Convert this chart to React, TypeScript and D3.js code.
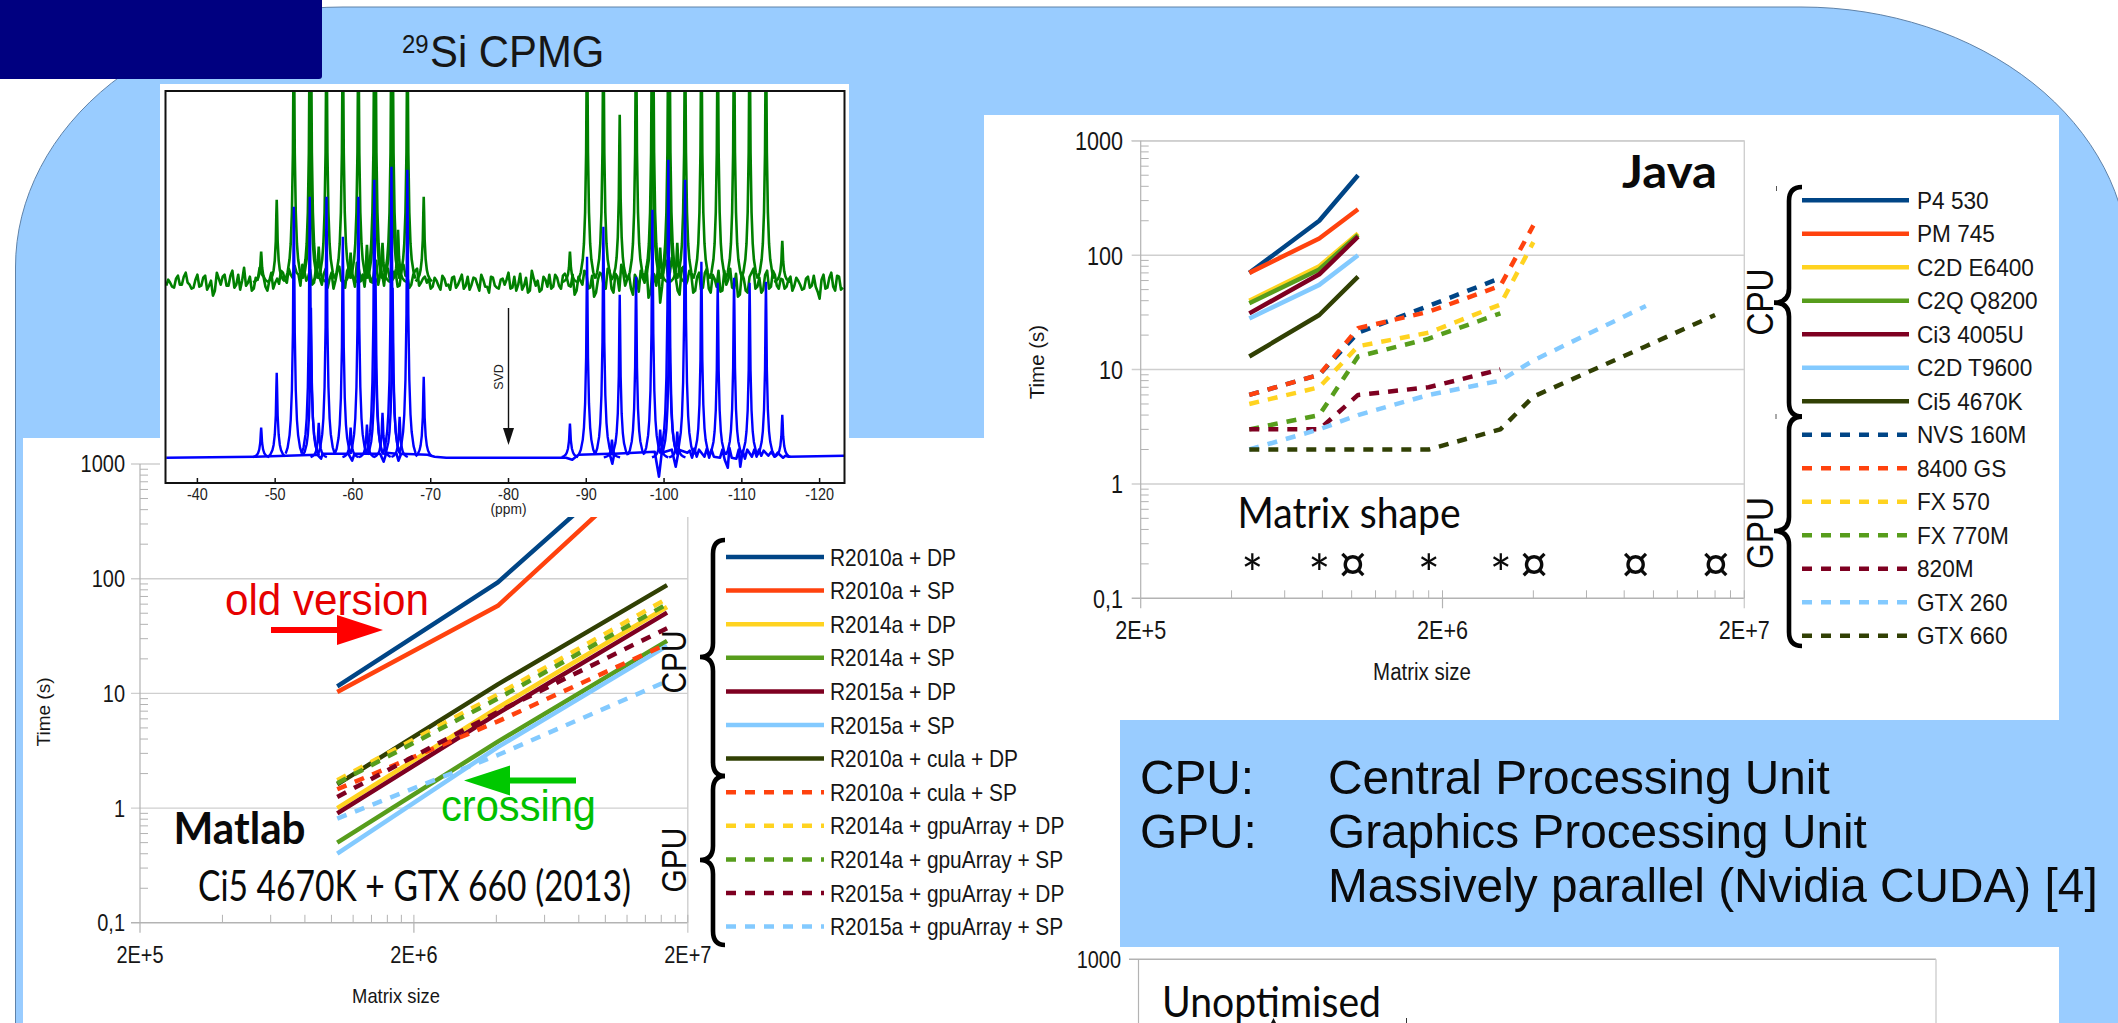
import React from "react";
import * as d3 from "d3";

// ---------- shared palette / labels ----------
const seriesColors = ["#004586", "#ff420e", "#ffd320", "#579d1c", "#7e0021", "#83caff", "#314004"];
const yTickLabels = ["0,1", "1", "10", "100", "1000"];
const yTickValues = [0.1, 1, 10, 100, 1000];
const xTickLabels = ["2E+5", "2E+6", "2E+7"];
const xTickValues = [2e5, 2e6, 2e7];

// ---------- Matlab chart ----------
const matlabSizes = [1.05e6, 4.05e6, 1.68e7];
const matlabNames = [
  "R2010a + DP", "R2010a + SP", "R2014a + DP", "R2014a + SP", "R2015a + DP", "R2015a + SP", "R2010a + cula + DP",
  "R2010a + cula + SP", "R2014a + gpuArray + DP", "R2014a + gpuArray + SP", "R2015a + gpuArray + DP", "R2015a + gpuArray + SP",
];
const matlabColorIdx = [0, 1, 2, 3, 4, 5, 6, 1, 2, 3, 4, 5];
const matlabDashed = [false, false, false, false, false, false, false, true, true, true, true, true];
const matlabValues = [
  [11.5, 93, 1900],
  [10.3, 58, 1330],
  [1.0, 7.5, 56.7],
  [0.5, 3.8, 28.7],
  [0.9, 6.7, 50.6],
  [0.4, 3.4, 26],
  [1.61, 12, 88],
  [1.46, 5.7, 27],
  [1.75, 9.8, 67],
  [1.65, 9, 60],
  [1.25, 6.9, 37],
  [0.81, 2.9, 12.8],
];

// ---------- Java chart ----------
const javaSizes = [4.58e5, 7.81e5, 1.05e6, 1.8e6, 3.11e6, 4.0e6, 9.44e6, 1.6e7];
const javaNames = [
  "P4 530", "PM 745", "C2D E6400", "C2Q Q8200", "Ci3 4005U", "C2D T9600", "Ci5 4670K",
  "NVS 160M", "8400 GS", "FX 570", "FX 770M", "820M", "GTX 260", "GTX 660",
];
const javaColorIdx = [0, 1, 2, 3, 4, 5, 6, 0, 1, 2, 3, 4, 5, 6];
const javaDashed = [false, false, false, false, false, false, false, true, true, true, true, true, true, true];
const N = null;
const javaValues = [
  [70, 200, 500, N, N, N, N, N],
  [70, 140, 252, N, N, N, N, N],
  [40, 80, 155, N, N, N, N, N],
  [38, 75, 150, N, N, N, N, N],
  [31, 68, 145, N, N, N, N, N],
  [28, 55, 100, N, N, N, N, N],
  [13, 30, 65, N, N, N, N, N],
  [6, 9, 21, 36, 63, N, N, N],
  [6, 9, 23, 32, 54, 182, N, N],
  [5, 7, 16, 21, 37, 130, N, N],
  [3, 4, 13, 18.6, 31, N, N, N],
  [3, 3, 6, 7, 10, N, N, N],
  [2, 3, 4, 6, 8, 12, 36, N],
  [2, 2, 2, 2, 3, 5.8, 16, 30],
];
const starSizes = [4.69e5, 7.81e5, 1.8e6, 3.12e6];
const curSizes = [1.01e6, 4.02e6, 8.73e6, 1.61e7];

// ---------- 29Si spectrum ----------
const ppmTicks = [-40, -50, -60, -70, -80, -90, -100, -110, -120];
const peakShapeOffsets = [-1.05, -0.8, -0.55, -0.4, -0.25, -0.12, -0.05, 0, 0.05, 0.12, 0.25, 0.4, 0.55, 0.8, 1.05];
const peakShapeFractions = [0.016, 0.04, 0.09, 0.15, 0.27, 0.5, 0.82, 1, 0.82, 0.5, 0.27, 0.15, 0.09, 0.04, 0.016];

const bluePeakPpm = [
  -48.2, -50.2, -52.4, -54.45, -54.6, -55.6, -56.6, -58.7, -59.7, -60.7, -61.8, -62.75, -62.9, -63.8, -64.95, -65.1, -66, -67, -69.1,
  -87.9, -90.1, -92.2, -93.3, -94.3, -96.4, -98.5, -99.5, -100.55, -100.7, -101.7, -102.7, -104.8, -106.9, -109, -111, -113.1, -115.2,
];
const bluePeakHeight = [
  30, 85, 251, 261, 150, 35, 261, 221, 30, 261, 33, 278, 180, 45, 291, 170, 41, 288, 81,
  34, 201, 231, 18, 163, 181, 248, 28, 298, 190, 26, 278, 196, 175, 180, 175, 176, 43,
];
const greenPeakPpm = [
  -48.2, -50.2, -52.4, -54.45, -54.6, -55.6, -56.6, -58.7, -59.7, -60.7, -61.8, -62.75, -62.9, -63.8, -64.95, -65.1, -65.8, -67, -69.1,
  -87.9, -90.1, -92.2, -94.3, -96.4, -98.45, -98.6, -99.5, -100.55, -100.7, -101.7, -102.7, -104.8, -106.9, -109, -111, -113.1, -115.2,
];
const greenPeakHeight = [
  31, 83, 260, 260, 260, 36, 260, 260, 30, 260, 38, 260, 260, 40, 260, 260, 53, 260, 86,
  31, 260, 260, 168, 260, 260, 260, 35, 260, 260, 40, 260, 260, 260, 260, 260, 260, 42,
];
// Green trace, read every half ppm from -36 ppm, height over the trace's resting level.
const greenTrace = [
  -3, 0, -5, 7, -2, 10, -2, -5, 8, -3, 7, -3, -13, 10, -2, 8, -3, 12, -2, -7, 15, 0, -8, 5, 15, 6, -8, 10, 0,
  -1, 10, 0, 8, 17, 8, 18, 2, 13, 0, 8, -2, 14, 4, -6, 12, 2, -5, 16, 6, 20, 3, -4, 10, 0, 22, 8, -3, 14, 2, 10, -3, 18, 6, -2, 12, -3, 4,
  0, -6, 5, -3, 7, -3, -7, 6, -2, 8, -3, -7, 5, -2, 8, -4, -10, 5, -5, 3,
  -2, 10, -5, -8, 9, -3, -10, 12, -3, -9, 6, -4, -6, 8, -3, 7,
  5, -4, -12, 6, -2, 10, -5, -14, 3, 8, -6, 12, -10, 6, 18, -3, 8, -12, 4, 12, 0, -15, 10, -3, -20, 20, 6, 25, 5, -12, 16, 2, 8, -8, 10, -5, 14, -10, 4, 12, -8, -2, 14, -6, -14, 10, -8, 6, 14, -4, -10, 8, -6, 12, -3,
  4, -6, 3, -8, 5, -2, -6, 6, -3, -4, -16, 8, -5, 10, -8, 6, -5,
];
// The same trace read at the midpoints, from -36.25 ppm.
const greenTraceMid = [
  3, -4, 4, -2, 6, 0, -6, 3, -4, 5, -7, 2, -8, 4, 6, -3, 7, -5, 8, 2, -3, 6, -6, 3, 9, -4, 2, -6, 4,
  12, 3, 14, 5, 10, -3, 12, 6, -2, 15, 4, 9, -5, 10, 2, 16, 0, 12, 6, -4, 14, 8, 16, 1, 12, -2, 9, 15, 3, 11, -4, 13, 7, -5, 8, 14, 0, 6,
  4, -4, 2, -7, 4, -2, 5, -5, 3, -6, 6, -2, 4, -8, 3, -4, 6, -3, -6, 4,
  3, -6, 6, -2, -7, 5, -8, 4, 2, -7, 3, 8, -4, 5, -6, 9,
  -3, 8, -8, 2, 12, -6, 7, -10, 10, -3, 14, -6, 9, -8, 10, 3, -6, 8, -9, 5, 16, -10, 8, 18, -4, 22, 10, 16, -8, 14, -3, 12, -10, 6, -7, 10, -6, 8, -4, -9, 12, 3, -5, 9, -12, 4, -10, 10, -6, 5, -7, 12, -4, 8, -6,
  3, -4, 6, -3, 2, -7, 4, -5, 7, -9, 3, -6, 5, -4, 7, -7,
];
const blueTracePpm = [
  -36, -47.5, -55.4, -55.9, -56.1, -59.4, -59.9, -60.2, -63.5, -63.95, -64.3, -65.6, -65.85, -66.2, -69.6, -70.5, -72, -87.4, -88.2, -89,
  -93, -93.35, -93.6, -98.8, -99.35, -99.7, -101, -101.5, -101.9, -103, -103.3, -103.6, -103.9, -104.2, -104.5, -105.2, -105.5, -105.8, -106.1, -106.4,
  -107.2, -107.5, -107.8, -108.2, -108.4, -108.7, -109.3, -109.6, -109.8, -110.1, -110.4, -110.7, -111.3, -111.6, -111.9, -112.2, -112.5, -112.8, -113.4, -113.8,
  -114.2, -114.6, -115.3, -115.6, -116, -123.2,
];
const blueTraceLevel = [
  0, 1, 3, -1, 4, 4, -3, 4, 4, -4, 5, 4, -3, 4, 3, 1, 0, 0, -2, 3,
  4, -6, 4, 6, -19, 5, 8, -9, 8, 5, 7, 0, 9, 1, 8, 1, 9, 0, 8, 1,
  0, 8, -2, -10, 10, 0, -1, 8, -9, 7, -1, 8, 1, 8, 1, 8, 2, 7, 2, 6,
  1, 5, 0, 2, 1, 2,
];

const FONT = "'Liberation Sans', Arial, sans-serif";
const HUMANIST = "Lato, 'Liberation Sans', sans-serif";
const INK = "#161616";
const AXIS = "#b3b3b3";
const DASH = "10 9";
const LINE_W = 4.5;

type Txt = {
  x: number; y: number; size: number; children: React.ReactNode; anchor?: string; fill?: string; family?: string;
  weight?: string | number; fit?: number; rotate?: boolean; squeeze?: number;
};
function T({ x, y, size, children, anchor = "start", fill = INK, family = FONT, weight = 400, fit, rotate, squeeze }: Txt) {
  const placed = rotate || squeeze;
  const tf = rotate ? `translate(${x},${y}) rotate(-90)` : squeeze ? `translate(${x},${y}) scale(${squeeze},1)` : undefined;
  return (
    <text
      x={placed ? 0 : x}
      y={placed ? 0 : y}
      transform={tf}
      fontSize={size}
      textAnchor={anchor}
      fill={fill}
      fontFamily={family}
      fontWeight={weight}
      textLength={fit}
      lengthAdjust={fit ? "spacingAndGlyphs" : undefined}
    >
      {children}
    </text>
  );
}

function bracePath(xEnd: number, xSpine: number, xTip: number, yTop: number, yMid: number, yBot: number) {
  const p = d3.path();
  const c = 14;
  p.moveTo(xEnd, yTop);
  p.quadraticCurveTo(xSpine, yTop, xSpine, yTop + c);
  p.lineTo(xSpine, yMid - c);
  p.quadraticCurveTo(xSpine, yMid, xTip, yMid);
  p.quadraticCurveTo(xSpine, yMid, xSpine, yMid + c);
  p.lineTo(xSpine, yBot - c);
  p.quadraticCurveTo(xSpine, yBot, xEnd, yBot);
  return p.toString();
}

function arrow(tailX: number, baseX: number, tipX: number, y: number, halfHead: number, halfShaft: number) {
  const p = d3.path();
  p.moveTo(tailX, y - halfShaft);
  p.lineTo(baseX, y - halfShaft);
  p.lineTo(baseX, y - halfHead);
  p.lineTo(tipX, y);
  p.lineTo(baseX, y + halfHead);
  p.lineTo(baseX, y + halfShaft);
  p.lineTo(tailX, y + halfShaft);
  p.closePath();
  return p.toString();
}

type ChartProps = {
  x: d3.ScaleLogarithmic<number, number>;
  y: d3.ScaleLogarithmic<number, number>;
  sizes: number[];
  values: (number | null)[][];
  colorIdx: number[];
  dashed: boolean[];
  labelSize: number;
  labelSqueeze: number;
  xLabelY: number;
  yLabelX: number;
  clipId: string;
};

function LogChart({ x, y, sizes, values, colorIdx, dashed, labelSize, labelSqueeze, xLabelY, yLabelX, clipId }: ChartProps) {
  const [x0, x1] = x.range();
  const [y0, y1] = y.range();
  const minorY: number[] = [];
  yTickValues.slice(0, -1).forEach((d) => {
    for (let k = 2; k <= 9; k++) minorY.push(d * k);
  });
  const minorX: number[] = [];
  xTickValues.slice(0, -1).forEach((d) => {
    for (let k = 2; k <= 9; k++) minorX.push(d * k);
    minorX.push(d * 10);
  });
  const line = d3
    .line<[number, number | null]>()
    .defined((d) => d[1] != null)
    .x((d) => x(d[0]))
    .y((d) => y(d[1] as number))
    .curve(d3.curveLinear);
  return (
    <g>
      {yTickValues.slice(1).map((v) => (
        <line key={v} x1={x0 - 9} x2={x1} y1={y(v)} y2={y(v)} stroke="#cfcfcf" strokeWidth={1.4} />
      ))}
      <line x1={x0 - 9} x2={x1} y1={y0} y2={y0} stroke={AXIS} strokeWidth={1.4} />
      <line x1={x0} x2={x0} y1={y1} y2={y0 + 10} stroke={AXIS} strokeWidth={1.2} />
      <line x1={x1} x2={x1} y1={y1} y2={y0 + 10} stroke="#cfcfcf" strokeWidth={1.4} />
      <line x1={x(2e6)} x2={x(2e6)} y1={y0} y2={y0 + 10} stroke={AXIS} strokeWidth={1.2} />
      {minorY.map((v) => (
        <line key={v} x1={x0} x2={x0 + 8} y1={y(v)} y2={y(v)} stroke={AXIS} strokeWidth={1} />
      ))}
      {minorX.map((v) => (
        <line key={v} x1={x(v)} x2={x(v)} y1={y0} y2={y0 - 8} stroke={AXIS} strokeWidth={1} />
      ))}
      {yTickValues.map((v, i) => (
        <T key={v} x={yLabelX} y={y(v) + labelSize * 0.36} size={labelSize} squeeze={labelSqueeze} anchor="end">
          {yTickLabels[i]}
        </T>
      ))}
      {xTickValues.map((v, i) => (
        <T key={v} x={x(v)} y={xLabelY} size={labelSize} squeeze={labelSqueeze} anchor="middle">
          {xTickLabels[i]}
        </T>
      ))}
      <clipPath id={clipId}>
        <rect x={x0} y={y1} width={x1 - x0} height={y0 - y1} />
      </clipPath>
      <g clipPath={`url(#${clipId})`}>
        {values.map((row, i) => (
          <path
            key={i}
            d={line(row.map((v, j) => [sizes[j], v] as [number, number | null])) || ""}
            fill="none"
            stroke={seriesColors[colorIdx[i]]}
            strokeWidth={LINE_W}
            strokeDasharray={dashed[i] ? DASH : undefined}
            strokeLinejoin="round"
          />
        ))}
      </g>
    </g>
  );
}

function Legend({ names, colorIdx, dashed, x0, x1, textX, rowY, size, squeeze }: {
  names: string[]; colorIdx: number[]; dashed: boolean[]; x0: number; x1: number; textX: number; rowY: (i: number) => number; size: number; squeeze: number;
}) {
  return (
    <g>
      {names.map((n, i) => (
        <g key={n}>
          <line
            x1={x0}
            x2={x1}
            y1={rowY(i)}
            y2={rowY(i)}
            stroke={seriesColors[colorIdx[i]]}
            strokeWidth={LINE_W}
            strokeDasharray={dashed[i] ? DASH : undefined}
          />
          <T x={textX} y={rowY(i) + size * 0.36} size={size} squeeze={squeeze}>
            {n}
          </T>
        </g>
      ))}
    </g>
  );
}

function Spectrum() {
  const x = d3.scaleLinear().domain([-35.9, -123.2]).range([165.5, 844.5]);
  const y = d3.scaleLinear().domain([0, 366]).range([457.7, 91.7]);
  const greenRest = 175;
  const line = d3.line<[number, number]>().x((d) => x(d[0])).y((d) => y(d[1]));
  const peak = (ppm: number, h: number, base: number) =>
    line(peakShapeOffsets.map((o, i) => [ppm + o, base + h * peakShapeFractions[i]] as [number, number])) || "";
  const greenPts: [number, number][] = [];
  greenTrace.forEach((v, i) => {
    greenPts.push([-36 - 0.5 * i, greenRest + v]);
    if (i < greenTraceMid.length) greenPts.push([-36.25 - 0.5 * i, greenRest + greenTraceMid[i]]);
  });
  const bluePts = blueTracePpm.map((p, i) => [p, blueTraceLevel[i]] as [number, number]);
  const frameT = 91;
  const frameB = 483;
  const arrowX = x(-80);
  return (
    <g>
      <rect x={160} y={84} width={689} height={433} fill="#fff" />
      <clipPath id="specClip">
        <rect x={165.5} y={frameT} width={679} height={frameB - frameT} />
      </clipPath>
      <g clipPath="url(#specClip)" fill="none">
        <path d={line(greenPts) || ""} stroke="#008000" strokeWidth={2.6} strokeLinejoin="round" />
        {greenPeakPpm.map((p, i) => (
          <path key={p} d={peak(p, greenPeakHeight[i], greenRest)} stroke="#008000" strokeWidth={2.6} />
        ))}
        <path d={line(bluePts) || ""} stroke="#0000ff" strokeWidth={2.6} strokeLinejoin="round" />
        {bluePeakPpm.map((p, i) => (
          <path key={p} d={peak(p, bluePeakHeight[i], 0)} stroke="#0000ff" strokeWidth={2.4} />
        ))}
      </g>
      <rect x={165.5} y={frameT} width={679} height={frameB - frameT} fill="none" stroke="#111" strokeWidth={2} />
      {ppmTicks.map((t) => (
        <g key={t}>
          <line x1={x(t)} x2={x(t)} y1={frameB} y2={frameB - 5} stroke="#111" strokeWidth={1.5} />
          <T x={x(t)} y={500} size={16} squeeze={0.9} anchor="middle" fill="#222">
            {t}
          </T>
        </g>
      ))}
      <T x={x(-80)} y={514} size={15} squeeze={0.92} anchor="middle" fill="#222">(ppm)</T>
      <line x1={arrowX} x2={arrowX} y1={308} y2={430} stroke="#111" strokeWidth={1.4} />
      <path d={`M${arrowX - 5.5},428 L${arrowX + 5.5},428 L${arrowX},445 Z`} fill="#111" />
      <T x={503} y={377} size={12.5} anchor="middle" fill="#222" rotate>SVD</T>
    </g>
  );
}

export default function App() {
  const mx = d3.scaleLog().domain([2e5, 2e7]).range([140, 687.8]);
  const my = d3.scaleLog().domain([0.1, 1000]).range([922.8, 464]);
  const jx = d3.scaleLog().domain([2e5, 2e7]).range([1140.7, 1744.3]);
  const jy = d3.scaleLog().domain([0.1, 1000]).range([598.3, 140.8]);
  const blueOutline = "M15.5,1040 L15.5,267 A327.5,260 0 0 1 343,7 L1801,7 A328,260 0 0 1 2129,267 L2129,1040 Z";
  return (
    <svg width={2118} height={1023} viewBox="0 0 2118 1023" style={{ position: "absolute", left: 0, top: 0, background: "#fff" }}>
      <path d={blueOutline} fill="#99ccff" stroke="#5f82a8" strokeWidth={1} />
      <path d="M0,0 H322 V76 Q322,79 319,79 H0 Z" fill="#000080" />
      <rect x={23} y={438} width={2036} height={585} fill="#fff" />
      <rect x={984} y={115} width={1075} height={605} fill="#fff" />
      <rect x={1120} y={720} width={939} height={227} fill="#99ccff" />

      <T x={402} y={53} size={26} squeeze={0.92}>29</T>
      <T x={430} y={67} size={45} squeeze={0.93}>Si CPMG</T>

      {/* Matlab */}
      <LogChart x={mx} y={my} sizes={matlabSizes} values={matlabValues} colorIdx={matlabColorIdx} dashed={matlabDashed}
        labelSize={23.5} labelSqueeze={0.85} xLabelY={962.5} yLabelX={125} clipId="mClip" />
      <T x={50} y={712} size={19} anchor="middle" rotate>Time (s)</T>
      <T x={396} y={1003} size={20} squeeze={0.92} anchor="middle">Matrix size</T>
      <Spectrum />
      <T x={225} y={615} size={44} fill="#e60000" fit={204}>old version</T>
      <path d={arrow(271, 337, 383, 630, 15, 3)} fill="#ff0000" />
      <path d={arrow(576, 510, 464, 780.6, 15, 3)} fill="#00c800" />
      <T x={441} y={821} size={44} fill="#00c000" fit={155}>crossing</T>
      <T x={173.5} y={844} size={44} family={HUMANIST} weight={700} fit={132} fill="#0a0a0a">Matlab</T>
      <T x={198} y={901} size={42} family={HUMANIST} fit={433} fill="#0a0a0a">Ci5 4670K + GTX 660 (2013)</T>
      <T x={686} y={662} size={35} fit={63} anchor="middle" rotate fill="#0a0a0a">CPU</T>
      <T x={686} y={860} size={35} fit={65} anchor="middle" rotate fill="#0a0a0a">GPU</T>
      <path d={bracePath(725, 713, 700, 540, 657, 776)} fill="none" stroke="#000" strokeWidth={4.6} />
      <path d={bracePath(725, 713, 700, 776, 860, 945)} fill="none" stroke="#000" strokeWidth={4.6} />
      <Legend names={matlabNames} colorIdx={matlabColorIdx} dashed={matlabDashed} x0={726} x1={824} textX={830}
        rowY={(i) => 557 + 33.6 * i} size={24} squeeze={0.87} />

      {/* Java */}
      <line x1={jx(2e5) - 9} x2={jx(2e7)} y1={jy(1000)} y2={jy(1000)} stroke={AXIS} strokeWidth={1.4} />
      <LogChart x={jx} y={jy} sizes={javaSizes} values={javaValues} colorIdx={javaColorIdx} dashed={javaDashed}
        labelSize={26} labelSqueeze={0.83} xLabelY={638.5} yLabelX={1123} clipId="jClip" />
      <T x={1044} y={362} size={20.5} anchor="middle" rotate>Time (s)</T>
      <T x={1422} y={680} size={23} squeeze={0.89} anchor="middle">Matrix size</T>
      <T x={1622} y={188} size={46} family={HUMANIST} weight={700} fit={95} fill="#0a0a0a">Java</T>
      <T x={1237.6} y={527.6} size={42} family={HUMANIST} fit={223} fill="#0a0a0a">Matrix shape</T>
      {starSizes.map((s) => (
        <T key={s} x={jx(s)} y={593} size={52} family={HUMANIST} anchor="middle" fill="#0a0a0a">*</T>
      ))}
      {curSizes.map((s) => (
        <T key={s} x={jx(s)} y={582} size={52} family={HUMANIST} anchor="middle" fill="#0a0a0a">¤</T>
      ))}
      <T x={1773} y={302} size={37} fit={67} anchor="middle" rotate fill="#0a0a0a">CPU</T>
      <T x={1773} y={533} size={37} fit={72} anchor="middle" rotate fill="#0a0a0a">GPU</T>
      <path d={bracePath(1802, 1789, 1774, 187, 302.6, 416.6)} fill="none" stroke="#000" strokeWidth={4.6} />
      <path d={bracePath(1802, 1789, 1774, 416.6, 531, 646)} fill="none" stroke="#000" strokeWidth={4.6} />
      <line x1={1776.5} x2={1776.5} y1={186} y2={191} stroke="#555" strokeWidth={1} />
      <line x1={1776} x2={1776} y1={414} y2={419} stroke="#555" strokeWidth={1} />
      <Legend names={javaNames} colorIdx={javaColorIdx} dashed={javaDashed} x0={1802} x1={1909} textX={1917}
        rowY={(i) => 200.3 + 33.5 * i} size={23.7} squeeze={0.955} />

      {/* Glossary */}
      <T x={1140} y={794} size={49} squeeze={0.975} fill="#0a0a0a">CPU:</T>
      <T x={1140} y={848} size={49} squeeze={0.975} fill="#0a0a0a">GPU:</T>
      <T x={1328} y={794} size={49} squeeze={0.975} fill="#0a0a0a">Central Processing Unit</T>
      <T x={1328} y={848} size={49} squeeze={0.975} fill="#0a0a0a">Graphics Processing Unit</T>
      <T x={1328} y={902} size={49} squeeze={0.975} fill="#0a0a0a">Massively parallel (Nvidia CUDA) [4]</T>

      {/* Third chart, cut by the page */}
      <line x1={1129} x2={1936} y1={959.3} y2={959.3} stroke={AXIS} strokeWidth={1.4} />
      <line x1={1138.5} x2={1138.5} y1={959.3} y2={1023} stroke={AXIS} strokeWidth={1.2} />
      <line x1={1936} x2={1936} y1={959.3} y2={1023} stroke="#cfcfcf" strokeWidth={1.4} />
      <T x={1121} y={968} size={24} squeeze={0.83} anchor="end">{yTickLabels[4]}</T>
      <T x={1162} y={1017} size={42} family={HUMANIST} fit={219} fill="#0a0a0a">Unoptimised</T>
      <line x1={1406.5} x2={1406.5} y1={1018} y2={1023} stroke="#333" strokeWidth={1} />
      <path d="M1273.5,1018 L1271,1023 L1276,1023 Z" fill="#111" />
    </svg>
  );
}
